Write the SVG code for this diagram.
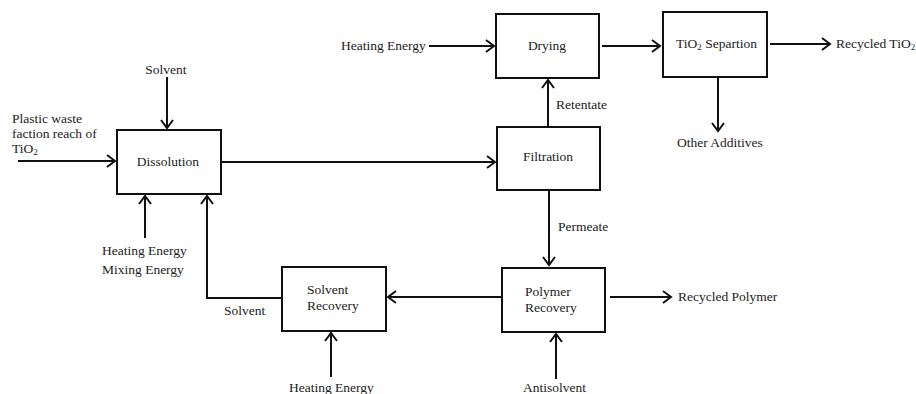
<svg xmlns="http://www.w3.org/2000/svg" width="916" height="394" viewBox="0 0 916 394">
<style>
text{font-family:"Liberation Serif","Times New Roman",serif;font-size:13.5px;fill:#222}
.box{fill:#fff;stroke:#111;stroke-width:2}
.ln{fill:none;stroke:#111;stroke-width:2}
.arr{fill:none;stroke:#111;stroke-width:2;marker-end:url(#ah)}
.c{text-anchor:middle}
</style>
<defs>
<marker id="ah" markerUnits="userSpaceOnUse" markerWidth="14" markerHeight="16" refX="9" refY="7" orient="auto">
<path d="M1,1 L9,7 L1,13" fill="none" stroke="#111" stroke-width="2"/>
</marker>
</defs>
<g id="connectors">
<path class="arr" d="M167,77 V128"/>
<path class="arr" d="M18,161 H115"/>
<path class="arr" d="M145,238 V196"/>
<path class="arr" d="M282,298 H207 V196"/>
<path class="arr" d="M222,162 H495"/>
<path class="arr" d="M429,46 H494"/>
<path class="arr" d="M548,126 V80"/>
<path class="arr" d="M602,46 H660"/>
<path class="arr" d="M770,44 H830"/>
<path class="arr" d="M718,78 V131"/>
<path class="arr" d="M549,190 V265"/>
<path class="arr" d="M501,297 H388"/>
<path class="arr" d="M610,297 H671"/>
<path class="arr" d="M556,379 V334"/>
<path class="arr" d="M331,377 V333"/>
</g>
<g id="dissolution"><rect class="box" x="117" y="130" width="104" height="64"/><text class="c" x="168" y="166">Dissolution</text></g>
<g id="filtration"><rect class="box" x="497" y="127" width="103" height="63"/><text class="c" x="548" y="161">Filtration</text></g>
<g id="drying"><rect class="box" x="496" y="14" width="103" height="64"/><text class="c" x="547" y="50">Drying</text></g>
<g id="tio2-separation"><rect class="box" x="663" y="12" width="104" height="65"/><text x="676" y="48">TiO<tspan font-size="9" dy="2">2</tspan><tspan dy="-2"> Separtion</tspan></text></g>
<g id="polymer-recovery"><rect class="box" x="502" y="268" width="103" height="64"/><text x="525" y="296">Polymer</text><text x="525" y="312">Recovery</text></g>
<g id="solvent-recovery"><rect class="box" x="282" y="267" width="104" height="64"/><text x="307" y="294">Solvent</text><text x="307" y="310">Recovery</text></g>
<g id="labels">
<text class="c" x="166" y="74">Solvent</text>
<text x="12" y="123">Plastic waste</text>
<text x="12" y="138">faction reach of</text>
<text x="12" y="153">TiO<tspan font-size="9" dy="2">2</tspan></text>
<text x="102" y="255">Heating Energy</text>
<text x="102" y="274">Mixing Energy</text>
<text x="224" y="315">Solvent</text>
<text x="289" y="392">Heating Energy</text>
<text x="341" y="50">Heating Energy</text>
<text x="556" y="109">Retentate</text>
<text x="558" y="231">Permeate</text>
<text x="523" y="392">Antisolvent</text>
<text x="678" y="301">Recycled Polymer</text>
<text x="836" y="48">Recycled TiO<tspan font-size="9" dy="2">2</tspan></text>
<text x="677" y="147">Other Additives</text>
</g>
</svg>
